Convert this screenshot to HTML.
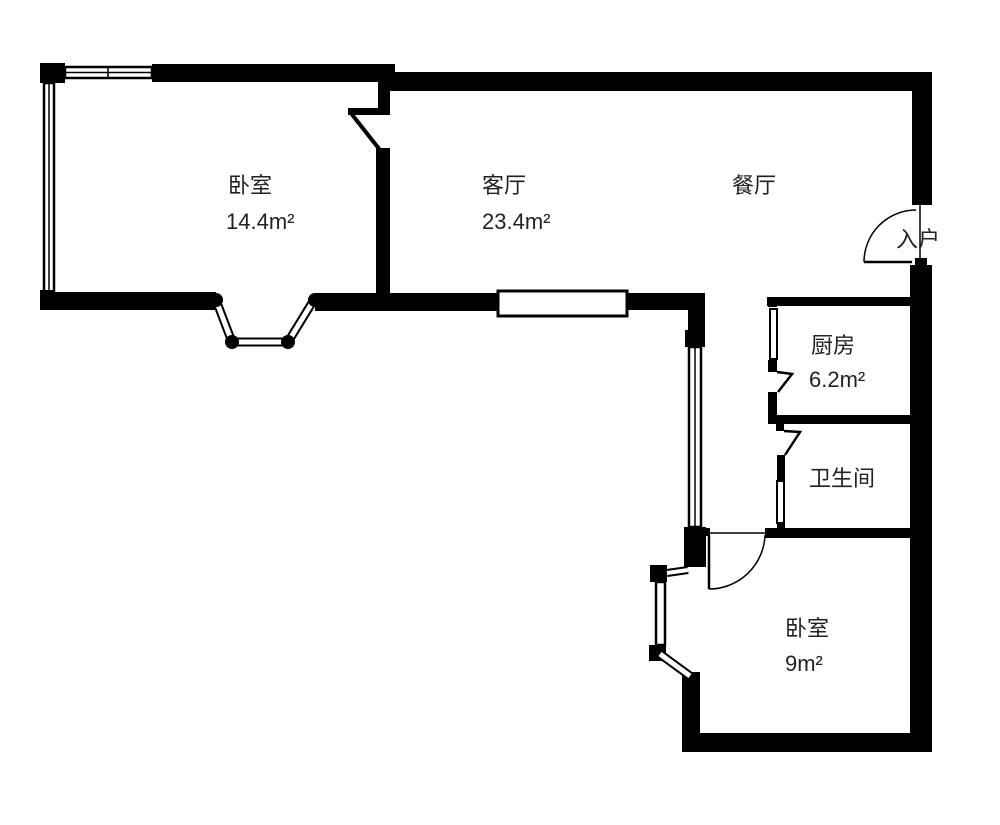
<!DOCTYPE html>
<html><head><meta charset="utf-8"><style>
html,body{margin:0;padding:0;background:#fff;}
svg text{font-family:"Liberation Sans","Noto Sans CJK SC",sans-serif;fill:#222;font-size:22px;}
</style></head><body>
<svg width="1000" height="820" viewBox="0 0 1000 820" xmlns="http://www.w3.org/2000/svg">
<rect width="1000" height="820" fill="#fff"/>
<g fill="#000">
<rect x="152" y="64" width="243" height="18"/>
<rect x="388" y="72" width="544" height="19"/>
<rect x="912" y="72" width="20" height="133"/>
<rect x="40" y="63" width="25" height="20"/>
<rect x="910" y="265" width="22" height="487"/>
<rect x="915" y="258" width="12" height="10"/>
<rect x="40" y="292" width="176" height="18"/>
<rect x="315" y="293" width="182" height="18"/>
<rect x="627" y="293" width="78" height="17"/>
<rect x="688" y="293" width="17" height="40"/>
<rect x="378" y="82" width="12" height="32"/>
<rect x="348" y="108" width="42" height="7"/>
<rect x="376" y="148" width="14" height="152"/>
<rect x="685" y="330" width="20" height="17"/>
<rect x="684" y="527" width="22" height="40"/>
<rect x="650" y="565" width="17" height="17"/>
<rect x="649" y="645" width="17" height="16"/>
<rect x="682" y="672" width="18" height="80"/>
<rect x="682" y="733" width="250" height="19"/>
<rect x="767" y="297" width="145" height="9"/>
<rect x="768" y="297" width="9" height="10"/>
<rect x="768" y="360" width="9" height="12"/>
<rect x="768" y="392" width="9" height="25"/>
<rect x="768" y="415" width="144" height="9"/>
<rect x="776" y="424" width="8" height="7"/>
<rect x="777" y="455" width="8" height="25"/>
<rect x="777" y="523" width="8" height="8"/>
<rect x="765" y="528" width="147" height="10"/>
<rect x="700" y="528" width="10" height="8"/>
<rect x="40" y="290" width="14" height="20"/>
</g>
<g fill="none" stroke="#000" stroke-width="2.5">
<rect x="65" y="67" width="87" height="11"/>
<line x1="65" y1="72.5" x2="152" y2="72.5" stroke-width="1.5"/>
<line x1="108" y1="67" x2="108" y2="78" stroke-width="1.5"/>
<rect x="44" y="83" width="10" height="209"/>
<line x1="49" y1="83" x2="49" y2="292" stroke-width="1.5"/>
<polyline points="216,300 232,342 288,342 315,298" stroke-width="9" stroke="#000"/>
<polyline points="216,300 232,342 288,342 315,298" stroke-width="5" stroke="#fff"/>
<line x1="350" y1="112" x2="380" y2="150" stroke-width="4"/>
<rect x="498" y="291" width="129" height="25" stroke-width="3"/>
<rect x="689" y="347" width="12" height="180"/>
<line x1="695" y1="347" x2="695" y2="527" stroke-width="1.5"/>
<rect x="770" y="309" width="7" height="50" stroke-width="2"/>
<rect x="777" y="481" width="7" height="42" stroke-width="2"/>
<polyline points="777,372 792,374 778,392" stroke-width="2.5"/>
<polyline points="784,431 800,432 785,455" stroke-width="2.5"/>
<line x1="708" y1="533" x2="766" y2="533" stroke-width="1.5"/>
<line x1="709" y1="535" x2="709" y2="589" stroke-width="2.5"/>
<path d="M709,589 A56,56 0 0 0 765,535" stroke-width="1.5"/>
<line x1="667" y1="573" x2="688" y2="570" stroke-width="8"/>
<line x1="667" y1="573" x2="688" y2="570" stroke-width="4" stroke="#fff"/>
<rect x="656" y="582" width="9" height="63" stroke-width="2.5"/>
<line x1="660" y1="654" x2="690" y2="676" stroke-width="9"/>
<line x1="660" y1="654" x2="690" y2="676" stroke-width="5" stroke="#fff"/>
<line x1="920" y1="205" x2="920" y2="262" stroke-width="1.5"/>
<line x1="864" y1="262" x2="912" y2="262" stroke-width="2.5"/>
<path d="M864,262 A52,52 0 0 1 916,210" stroke-width="1.5"/>
</g>
<g fill="#000">
<circle cx="232" cy="342" r="7"/>
<circle cx="288" cy="342" r="7"/>
<circle cx="216" cy="300" r="7"/>
<circle cx="315" cy="300" r="7"/>
</g>
<text x="228" y="193">卧室</text>
<text x="226" y="229">14.4m²</text>
<text x="482" y="193">客厅</text>
<text x="482" y="229">23.4m²</text>
<text x="732" y="193">餐厅</text>
<text x="896" y="247" font-size="19">入户</text>
<text x="811" y="353">厨房</text>
<text x="809" y="387">6.2m²</text>
<text x="809" y="486">卫生间</text>
<text x="785" y="636">卧室</text>
<text x="785" y="671">9m²</text>
</svg>
</body></html>
